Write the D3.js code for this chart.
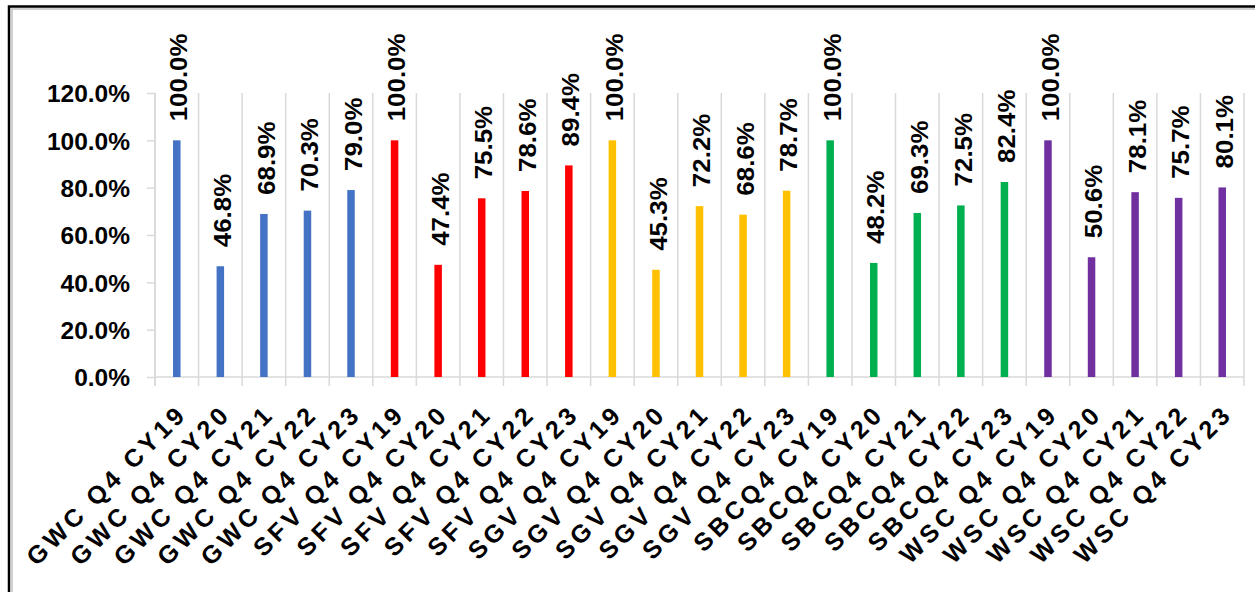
<!DOCTYPE html>
<html><head><meta charset="utf-8">
<script src="https://cdn.jsdelivr.net/npm/d3@7"></script>
<style>html,body{margin:0;padding:0;background:#fff;overflow:hidden}</style>
</head><body>
<svg id="c" width="1255" height="592"></svg>
<script>
const categories = [
 "GWC Q4 CY19","GWC Q4 CY20","GWC Q4 CY21","GWC Q4 CY22","GWC Q4 CY23",
 "SFV Q4 CY19","SFV Q4 CY20","SFV Q4 CY21","SFV Q4 CY22","SFV Q4 CY23",
 "SGV Q4 CY19","SGV Q4 CY20","SGV Q4 CY21","SGV Q4 CY22","SGV Q4 CY23",
 "SBCQ4 CY19","SBCQ4 CY20","SBCQ4 CY21","SBCQ4 CY22","SBCQ4 CY23",
 "WSC Q4 CY19","WSC Q4 CY20","WSC Q4 CY21","WSC Q4 CY22","WSC Q4 CY23"];
const values = [100.0,46.8,68.9,70.3,79.0, 100.0,47.4,75.5,78.6,89.4,
 100.0,45.3,72.2,68.6,78.7, 100.0,48.2,69.3,72.5,82.4, 100.0,50.6,78.1,75.7,80.1];
const groups = ["GWC","SFV","SGV","SBC","WSC"];
const groupColors = ["#4472C4","#FF0000","#FFC000","#00B050","#7030A0"];
const yTicks = [0,20,40,60,80,100,120];

const svg = d3.select("#c");
const font = "'Liberation Sans', Arial, sans-serif";
// frame
svg.append("rect").attr("x",12).attr("y",9).attr("width",1260).attr("height",600).attr("fill","none").attr("stroke","#d0d0d0").attr("stroke-width",2);
svg.append("rect").attr("x",9).attr("y",6.5).attr("width",1260).attr("height",600).attr("fill","none").attr("stroke","#000").attr("stroke-width",2.5);

const x = d3.scaleBand().domain(categories).range([155,1244]).padding(0);
const y = d3.scaleLinear().domain([0,120]).range([377,93]);
const grid = "#d9d9d9";

// vertical category separators
const bounds = categories.map(c=>x(c)).concat([x.range()[1]]);
svg.append("g").selectAll("line").data(bounds).join("line")
 .attr("x1",d=>d).attr("x2",d=>d).attr("y1",y(120)).attr("y2",y(0)+9)
 .attr("stroke",grid).attr("stroke-width",1.5);

// y axis
const ya = svg.append("g").attr("transform","translate(155,0)")
 .call(d3.axisLeft(y).tickValues(yTicks).tickSize(8).tickPadding(17).tickFormat(d=>d.toFixed(1)+"%"));
ya.select(".domain").attr("stroke",grid).attr("stroke-width",1.5).attr("d","M0,"+y(120)+"V"+(y(0)+9));
ya.selectAll(".tick line").attr("stroke",grid).attr("stroke-width",1.5);
ya.selectAll(".tick text").attr("font-family",font).attr("font-weight","bold").attr("font-size",24.5).attr("fill","#000").attr("dy","0.36em");

// x axis line
svg.append("line").attr("x1",155).attr("x2",1244).attr("y1",y(0)).attr("y2",y(0)).attr("stroke",grid).attr("stroke-width",1.5);

const colorOf = i => groupColors[Math.floor(i/5)];
// bars
svg.append("g").selectAll("rect").data(values).join("rect")
 .attr("x",(d,i)=>x(categories[i])+x.bandwidth()/2-3.75)
 .attr("width",7.5)
 .attr("y",d=>y(d)).attr("height",d=>y(0)-y(d))
 .attr("fill",(d,i)=>colorOf(i));

// value labels
svg.append("g").selectAll("text").data(values).join("text")
 .attr("transform",(d,i)=>`translate(${x(categories[i])+x.bandwidth()/2+2},${y(d)-19}) rotate(-90) scale(1.08,1)`)
 .attr("dy","0.36em")
 .attr("font-family",font).attr("font-weight","bold").attr("font-size",24).attr("fill","#000")
 .text(d=>d.toFixed(1)+"%");

// category labels
svg.append("g").selectAll("text").data(categories).join("text")
 .attr("transform",c=>`translate(${x(c)+x.bandwidth()/2+12},${415}) rotate(-45)`)
 .attr("text-anchor","end")
 .attr("font-family",font).attr("font-weight","bold").attr("font-size",25).attr("letter-spacing","4px").attr("fill","#000")
 .text(c=>c);
</script>
</body></html>
